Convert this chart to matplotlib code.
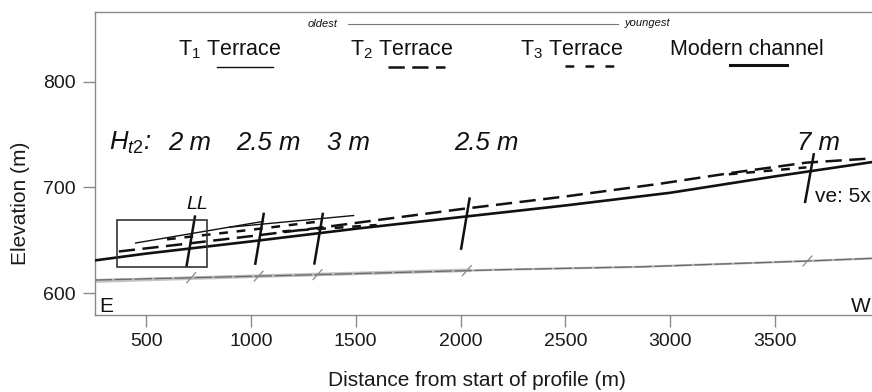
import matplotlib
matplotlib.use("Agg")
import matplotlib.pyplot as plt
from matplotlib.patches import Rectangle
import numpy as np

plt.rcParams['font.family'] = ['Liberation Sans', 'DejaVu Sans']
plt.rcParams['mathtext.fontset'] = 'custom'
plt.rcParams['mathtext.rm'] = 'Liberation Sans'
plt.rcParams['mathtext.it'] = 'Liberation Sans:italic'

# ---------------- data ----------------
channel_d = [254, 500, 1000, 1500, 2000, 2500, 3000, 3500, 3963]
channel_z = [631, 637.5, 649, 661, 672, 683, 695, 710.5, 724]

t2_d = [370, 700, 1000, 1330, 1615, 2000, 2500, 2950, 3300, 3650, 3963]
t2_z = [639.5, 647, 654, 662, 669.5, 679.5, 691.5, 703.5, 714, 723.5, 727.5]

t1a_d = [450, 1060]
t1a_z = [647.5, 668]
t1b_d = [900, 1490]
t1b_z = [662.5, 673.5]

t3a_d = [600, 1000, 1310]
t3a_z = [651, 660, 667.5]
t3b_d = [1150, 1600]
t3b_z = [658.5, 664.5]
t3c_d = [3280, 3650]
t3c_z = [712.5, 719]

# undistorted (gray) profile
gray_d = [254, 1200, 2240, 2860, 3670, 3963]
gray_z = [612.5, 617, 622.5, 625, 630.6, 633]
grayband_d = [254, 1000, 2050]
grayband_z = [611.5, 616, 621.8]

# cross-section markers
mk_top_d = [733, 1061, 1343, 2043, 3685]
mk_top_z = [672.5, 675, 675, 689.5, 731.3]
mk_bot_d = [693, 1021, 1303, 2003, 3644]
mk_bot_z = [625.7, 628, 628.2, 642.2, 686.4]
gtick_d = [715, 1037, 1318, 2030, 3655]

# terrace height labels
h_labels = ["2 m", "2.5 m", "3 m", "2.5 m", "7 m"]
h_label_d = [603, 932, 1362, 1972, 3605]

box_x0, box_x1 = 360, 792
box_z0, box_z1 = 625, 669

xticks = [500, 1000, 1500, 2000, 2500, 3000, 3500]
yticks = [600, 700, 800]

# ---------------- figure ----------------
fig = plt.figure(figsize=(8.72, 3.92), dpi=100)
ax = fig.add_axes([0.1084, 0.1952, 0.8916, 0.775])
ax.set_xlim(254, 3963)
ax.set_ylim(579, 866.2)

for s in ['left', 'bottom', 'top']:
    ax.spines[s].set_color('#8a8a8a')
    ax.spines[s].set_linewidth(1.0)
ax.spines['right'].set_visible(False)

ax.set_xticks(xticks)
ax.set_yticks(yticks)
ax.tick_params(axis='both', direction='out', color='#8a8a8a', length=8.5,
               width=1, labelsize=14, labelcolor='#1a1a1a')
ax.tick_params(axis='x', pad=4.3)
ax.tick_params(axis='y', pad=5)

# gray undistorted profile
ax.plot(grayband_d, grayband_z, color='#c4c4c4', lw=2.6, solid_capstyle='butt', zorder=1)
ax.plot(gray_d, gray_z, color='#b8b8b8', lw=1.6, zorder=1)
ax.plot(gray_d, gray_z, color='#6a6a6a', lw=0.9, dashes=(14, 2), zorder=2)
gz = np.interp(gtick_d, gray_d, gray_z)
for d, z in zip(gtick_d, gz):
    ax.plot([d - 21, d + 21], [z - 4.7, z + 4.7], color='#8a8a8a', lw=0.9, zorder=2)

# terraces and channel
ax.plot(t1a_d, t1a_z, color='#111111', lw=1.0, zorder=3)
ax.plot(t1b_d, t1b_z, color='#111111', lw=1.0, zorder=3)
ax.plot(t3a_d, t3a_z, color='#111111', lw=1.8, dashes=(3.5, 3.5), zorder=3)
ax.plot(t3b_d, t3b_z, color='#111111', lw=1.8, dashes=(3.5, 3.5), zorder=3)
ax.plot(t3c_d, t3c_z, color='#111111', lw=1.8, dashes=(3.5, 3.5), zorder=3)
ax.plot(t2_d, t2_z, color='#111111', lw=1.8, dashes=(6.5, 3.0), zorder=3)
ax.plot(channel_d, channel_z, color='#111111', lw=1.9, zorder=4)

# markers
for d0, z0, d1, z1 in zip(mk_bot_d, mk_bot_z, mk_top_d, mk_top_z):
    ax.plot([d0, d1], [z0, z1], color='#111111', lw=1.8, zorder=5)

# LL box
ax.add_patch(Rectangle((box_x0, box_z0), box_x1 - box_x0, box_z1 - box_z0,
                       fill=False, edgecolor='#333333', lw=1.2, zorder=5))

# text annotations in data coords
tc = '#111111'
ax.text(322, 735.5, r"$\mathit{H_{t2}}$:", fontsize=18.5, style='italic',
        color=tc, va='baseline', ha='left')
for lab, d in zip(h_labels, h_label_d):
    ax.text(d, 735.5, lab, fontsize=18.5, style='italic', color=tc,
            va='baseline', ha='left')
ax.text(693, 680, "LL", fontsize=14, style='italic', color=tc, va='baseline', ha='left')
ax.text(3691, 686.4, "ve: 5x", fontsize=15, color=tc, va='baseline', ha='left')
ax.text(278, 582.3, "E", fontsize=15, color=tc, va='baseline', ha='left')
ax.text(3863, 582.3, "W", fontsize=15, color=tc, va='baseline', ha='left')

# legend-like header (axes coords)
T = ax.transAxes
ax.text(0.1074, 0.8575, r"T$_\mathrm{1}$ Terrace", transform=T, fontsize=15.5,
        color=tc, va='baseline', ha='left')
ax.plot([0.1576, 0.2296], [0.818, 0.818], transform=T, color=tc, lw=1.0)
ax.text(0.3286, 0.8575, r"T$_\mathrm{2}$ Terrace", transform=T, fontsize=15.5,
        color=tc, va='baseline', ha='left')
ax.plot([0.3775, 0.4508], [0.818, 0.818], transform=T, color=tc, lw=1.8,
        dashes=(6.5, 3.0), dash_capstyle='butt')
ax.text(0.5473, 0.8575, r"T$_\mathrm{3}$ Terrace", transform=T, fontsize=15.5,
        color=tc, va='baseline', ha='left')
ax.plot([0.6051, 0.672], [0.821, 0.821], transform=T, color=tc, lw=1.8,
        dashes=(3.5, 4.5))
ax.text(0.7402, 0.8575, "Modern channel", transform=T, fontsize=15.5,
        color=tc, va='baseline', ha='left')
ax.plot([0.8174, 0.8907], [0.8246, 0.8246], transform=T, color=tc, lw=2.2)

ax.text(0.2746, 0.9595, "oldest", transform=T, fontsize=8, style='italic',
        color=tc, va='center', ha='left')
ax.plot([0.326, 0.6733], [0.9595, 0.9595], transform=T, color='#777777', lw=0.8)
ax.text(0.6823, 0.962, "youngest", transform=T, fontsize=8, style='italic',
        color=tc, va='center', ha='left')

# axis labels
fig.text(20 / 872, 1 - 203 / 392, "Elevation (m)", rotation=90, fontsize=15,
         color='#1a1a1a', ha='center', va='center')
fig.text(477 / 872, 1 - 380 / 392, "Distance from start of profile (m)", fontsize=15,
         color='#1a1a1a', ha='center', va='center')

fig.savefig("out.png", dpi=100)
